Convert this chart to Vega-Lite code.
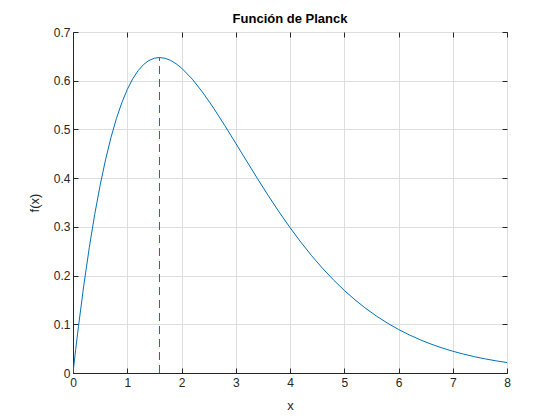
{
  "$schema": "https://vega.github.io/schema/vega-lite/v6.json",
  "autosize": "none",
  "width": 434,
  "height": 341,
  "padding": {"left": 73, "top": 32, "right": 53, "bottom": 47},
  "background": "white",
  "title": {"text": "Función de Planck", "font": "Liberation Sans", "fontSize": 13, "fontWeight": "bold", "color": "#000000", "offset": 0},
  "config": {
    "view": {"stroke": "#262626", "strokeWidth": 1},
    "axis": {
      "labelFont": "Liberation Sans", "labelFontSize": 12, "labelColor": "#262626", "labelFlush": false,
      "titleFont": "Liberation Sans", "titleFontSize": 13, "titleColor": "#262626", "titleFontWeight": "normal",
      "domainColor": "#262626", "tickColor": "#262626", "tickSize": -5,
      "gridColor": "#dedede", "gridWidth": 1
    }
  },
  "datasets": {
    "curve": [
      {"x": 0, "y": 0}, {"x": 0.05, "y": 0.04876}, {"x": 0.1, "y": 0.09508}, {"x": 0.2, "y": 0.18067}, {"x": 0.3, "y": 0.25725},
      {"x": 0.4, "y": 0.32532}, {"x": 0.5, "y": 0.38537}, {"x": 0.6, "y": 0.43789}, {"x": 0.7, "y": 0.48335},
      {"x": 0.8, "y": 0.52222}, {"x": 0.9, "y": 0.55495}, {"x": 1.0, "y": 0.58198}, {"x": 1.1, "y": 0.60374},
      {"x": 1.2, "y": 0.62066}, {"x": 1.3, "y": 0.63313}, {"x": 1.4, "y": 0.64153}, {"x": 1.5, "y": 0.64624},
      {"x": 1.594, "y": 0.64761}, {"x": 1.7, "y": 0.64596}, {"x": 1.8, "y": 0.64163}, {"x": 1.9, "y": 0.6349},
      {"x": 2.0, "y": 0.62607}, {"x": 2.2, "y": 0.60311}, {"x": 2.4, "y": 0.57467}, {"x": 2.6, "y": 0.54237},
      {"x": 2.8, "y": 0.50762}, {"x": 3.0, "y": 0.47156}, {"x": 3.2, "y": 0.43514}, {"x": 3.4, "y": 0.39911},
      {"x": 3.6, "y": 0.36406}, {"x": 3.8, "y": 0.33043}, {"x": 4.0, "y": 0.29852}, {"x": 4.2, "y": 0.26855},
      {"x": 4.4, "y": 0.24064}, {"x": 4.6, "y": 0.21486}, {"x": 4.8, "y": 0.19119}, {"x": 5.0, "y": 0.16959},
      {"x": 5.2, "y": 0.15}, {"x": 5.4, "y": 0.1323}, {"x": 5.6, "y": 0.1164}, {"x": 5.8, "y": 0.10216},
      {"x": 6.0, "y": 0.08946}, {"x": 6.2, "y": 0.07817}, {"x": 6.4, "y": 0.06817}, {"x": 6.6, "y": 0.05934},
      {"x": 6.8, "y": 0.05156}, {"x": 7.0, "y": 0.04472}, {"x": 7.2, "y": 0.03873}, {"x": 7.4, "y": 0.03349},
      {"x": 7.6, "y": 0.02892}, {"x": 7.8, "y": 0.02494}, {"x": 8.0, "y": 0.02148}
    ],
    "peak": [{"x": 1.594, "y0": 0, "y": 0.64761}]
  },
  "layer": [
    {
      "data": {"name": "curve"},
      "mark": {"type": "line", "color": "#0072BD", "strokeWidth": 1, "clip": true},
      "encoding": {
        "x": {"field": "x", "type": "quantitative", "scale": {"domain": [0, 8], "nice": false},
              "axis": {"title": "x", "grid": true, "values": [0,1,2,3,4,5,6,7,8], "format": "~g", "labelPadding": 9, "titlePadding": 11}},
        "y": {"field": "y", "type": "quantitative", "scale": {"domain": [0, 0.7], "nice": false},
              "axis": {"title": "f(x)", "grid": true, "values": [0,0.1,0.2,0.3,0.4,0.5,0.6,0.7], "format": "~g", "labelPadding": 8, "titlePadding": 12}}
      }
    },
    {
      "data": {"name": "curve"},
      "mark": {"type": "point", "opacity": 0},
      "encoding": {
        "x": {"field": "x", "type": "quantitative", "axis": {"orient": "top", "labels": false, "title": null, "grid": false, "values": [0,1,2,3,4,5,6,7,8], "domain": false}},
        "y": {"field": "y", "type": "quantitative", "axis": {"orient": "right", "labels": false, "title": null, "grid": false, "values": [0,0.1,0.2,0.3,0.4,0.5,0.6,0.7], "domain": false}}
      }
    },
    {
      "data": {"name": "peak"},
      "mark": {"type": "rule", "strokeWidth": 1, "strokeDash": [8, 5]},
      "encoding": {
        "x": {"field": "x", "type": "quantitative", "axis": null},
        "y": {"field": "y0", "type": "quantitative", "axis": null},
        "y2": {"field": "y"},
        "color": {"value": "#0072BD"}
      }
    }
  ],
  "resolve": {"axis": {"x": "independent", "y": "independent"}}
}
